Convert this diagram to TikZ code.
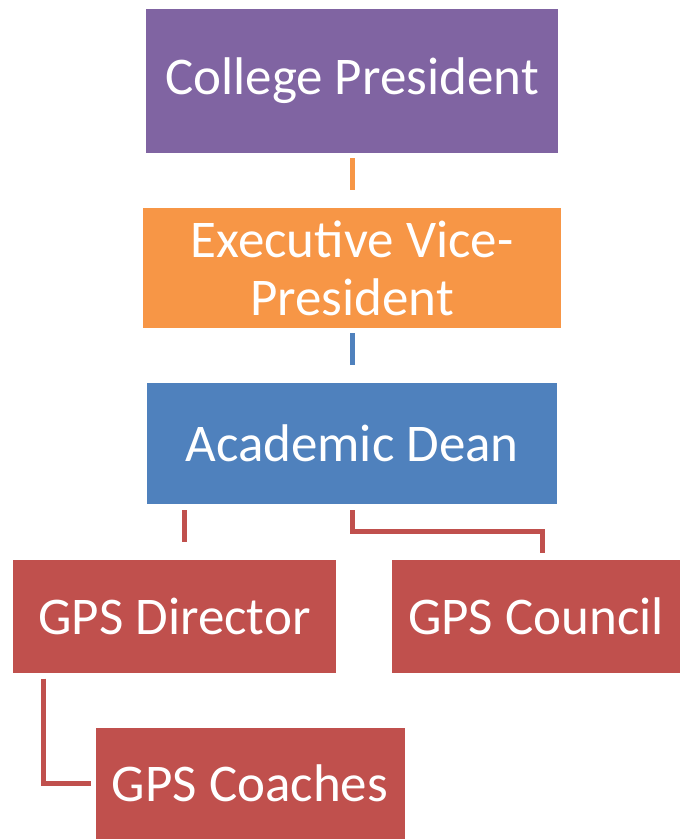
\documentclass[tikz,border=0pt]{standalone}
\usepackage{fontspec}
\setmainfont{Carlito}
\usetikzlibrary{calc}
\definecolor{cpurple}{HTML}{8064A2}
\definecolor{corange}{HTML}{F79646}
\definecolor{cblue}{HTML}{4F81BD}
\definecolor{cred}{HTML}{C0504D}
\begin{document}
\begin{tikzpicture}[x=1pt,y=1pt,
  box/.style={rectangle,inner sep=0pt,outer sep=0pt,text=white,align=center,
    font=\fontsize{53}{58}\selectfont},
  conn/.style={line width=5pt}]
\useasboundingbox (0,0) rectangle (680,-839);
\node[box,fill=cpurple,minimum width=412,minimum height=144] (cp) at (352,-81) {College President};
\node[box,fill=corange,minimum width=418,minimum height=120] (evp) at (352,-268) {Executive Vice-\\President};
\node[box,fill=cblue,minimum width=410,minimum height=121] (ad) at (352,-443.5) {Academic Dean};
\node[box,fill=cred,minimum width=323,minimum height=113] (gd) at (174.5,-616) {GPS Director};
\node[box,fill=cred,minimum width=288,minimum height=113] (gc) at (536,-616) {GPS Council};
\node[box,fill=cred,minimum width=309,minimum height=111] (gco) at (250,-783.5) {GPS Coaches};
\draw[conn,corange] ($(cp.south)+(0,-5)$) -- ($(evp.north)+(0,18)$);
\draw[conn,cblue] ($(evp.south)+(0,-5)$) -- ($(ad.north)+(0,18)$);
\draw[conn,cred] ($(ad.south west)+(37,-6)$) -- ($(gd.north west)+(171,18)$);
\draw[conn,cred] ($(ad.south)+(0,-6)$) |- ($(gc.north)+(6,28)$) -- ($(gc.north)+(6,7)$);
\draw[conn,cred] ($(gd.south west)+(30,-6)$) |- ($(gco.west)+(-5,0)$);
\end{tikzpicture}
\end{document}
